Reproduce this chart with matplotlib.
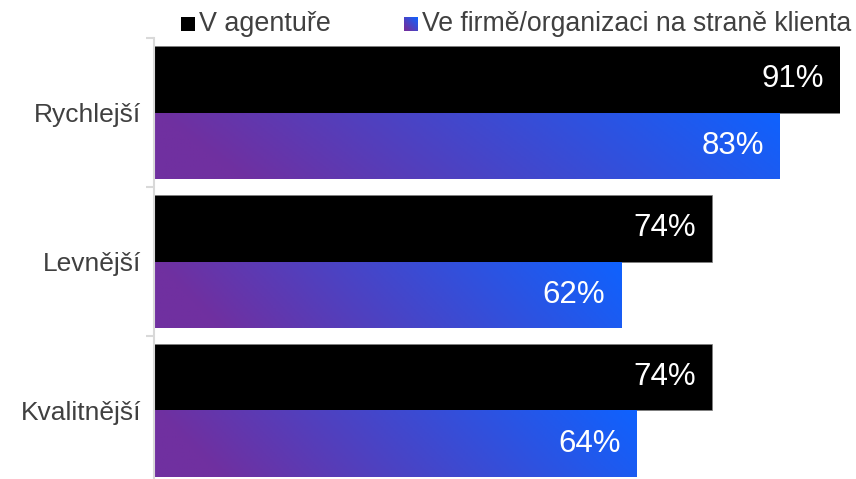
import numpy as np
import matplotlib
matplotlib.use("Agg")
import matplotlib.pyplot as plt
from matplotlib.colors import LinearSegmentedColormap

plt.rcParams['font.family'] = ['Liberation Sans', 'DejaVu Sans']

categories = ['Rychlejší', 'Levnější', 'Kvalitnější']
agentura = [91, 74, 74]
klient = [83, 62, 64]
series_names = ['V agentuře', 'Ve firmě/organizaci na straně klienta']

grad = LinearSegmentedColormap.from_list('pb', [(0, '#7030A0'), (0.12, '#7030A0'), (1, '#0F62FE')])

fig = plt.figure(figsize=(8.56, 4.79), dpi=100)
ax = fig.add_axes([154 / 856, 1 - 485 / 479, (840 - 154) / 856, (485 - 38) / 479])

y = np.arange(len(categories))
h = 0.446
black = ax.barh(y - h / 2, agentura, height=h, color='black', edgecolor='#808080', linewidth=0.5)
grad_bars = ax.barh(y + h / 2, klient, height=h, color='none', edgecolor='none')

# gradient fill: purple bottom-left -> blue top-right, per bar
gx, gy = np.meshgrid(np.linspace(0, 1, 200), np.linspace(0, 1, 50))
for bar in grad_bars:
    x0, y0 = bar.get_x(), bar.get_y()
    w, hh = bar.get_width(), bar.get_height()
    t = 0.88 * gx + 0.12 * (1 - gy)
    im = ax.imshow(t, cmap=grad, vmin=0, vmax=1, aspect='auto',
                   extent=[x0, x0 + w, y0 + hh, y0], origin='upper', zorder=2)
    im.set_clip_path(bar)

for bars, vals in [(black, agentura), (grad_bars, klient)]:
    for bar, v in zip(bars, vals):
        ax.annotate(f'{v}%', (bar.get_width(), bar.get_y() + bar.get_height() / 2),
                    xytext=(-16, 0), textcoords='offset pixels', ha='right', va='center',
                    color='white', fontsize=22.5, zorder=5)

ax.set_xlim(0, 91)
ax.set_ylim(len(categories) - 0.5, -0.5)
ax.set_yticks(y)
ax.set_yticklabels(categories, fontsize=19, color='#404040')
ax.tick_params(axis='y', which='major', length=0, pad=9)
ax.set_yticks(np.arange(len(categories) + 1) - 0.5, minor=True)
ax.tick_params(axis='y', which='minor', length=6, width=1.5, color='#d9d9d9')
ax.set_xticks([])
for s in ['top', 'right', 'bottom']:
    ax.spines[s].set_visible(False)
ax.spines['left'].set_color('#d9d9d9')
ax.spines['left'].set_linewidth(1.5)

# legend drawn by hand
sq = 14
lax1 = fig.add_axes([181 / 856, 1 - 31 / 479, sq / 856, sq / 479])
lax1.set_facecolor('black')
lax1.set_xticks([]); lax1.set_yticks([])
for s in lax1.spines.values():
    s.set_visible(False)
fig.text(199 / 856, 1 - 24 / 479, series_names[0], fontsize=19.4, color='#404040', va='center', ha='left')

lax2 = fig.add_axes([404 / 856, 1 - 31 / 479, sq / 856, sq / 479])
sx, sy = np.meshgrid(np.linspace(0, 1, 30), np.linspace(0, 1, 30))
lax2.imshow(0.5 * sx + 0.5 * sy, cmap=grad, vmin=0, vmax=1, aspect='auto', origin='lower')
lax2.set_xticks([]); lax2.set_yticks([])
for s in lax2.spines.values():
    s.set_visible(False)
fig.text(422 / 856, 1 - 24 / 479, series_names[1], fontsize=19.2, color='#404040', va='center', ha='left')

fig.savefig('out.png', dpi=100)
